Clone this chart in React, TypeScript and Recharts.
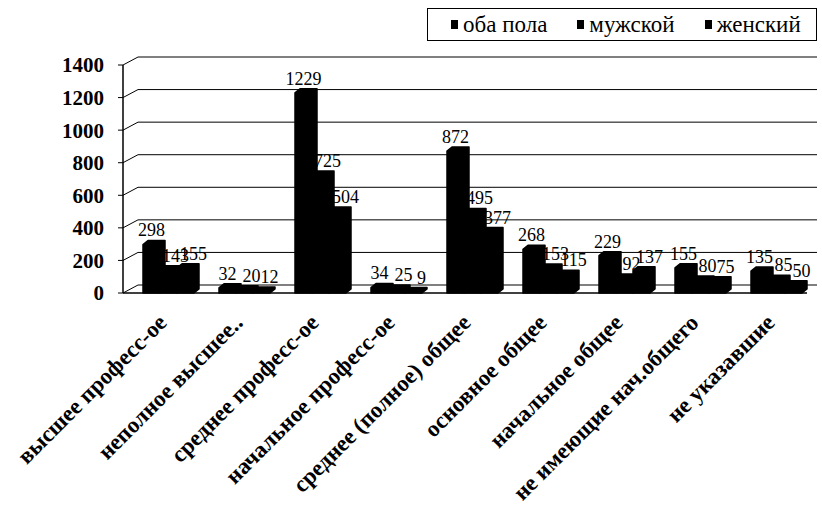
import React from 'react';
import { BarChart, Bar, XAxis, YAxis, CartesianGrid, LabelList } from 'recharts';

const categories = [
  'высшее професс-ое',
  'неполное высшее..',
  'среднее професс-ое',
  'начальное професс-ое',
  'среднее (полное) общее',
  'основное общее',
  'начальное общее',
  'не имеющие нач.общего',
  'не указавшие',
];
const both = [298, 32, 1229, 34, 872, 268, 229, 155, 135];
const male = [143, 20, 725, 25, 495, 153, 92, 80, 85];
const female = [155, 12, 504, 9, 377, 115, 137, 75, 50];
const yTicks = [0, 200, 400, 600, 800, 1000, 1200, 1400];
const seriesNames = ['оба пола', 'мужской', 'женский'];

const data = categories.map((name, i) => ({
  name,
  both: both[i],
  male: male[i],
  female: female[i],
}));

const FONT = '"Liberation Serif", "Times New Roman", serif';
const SHIFT = 8;
const DX = 5;
const DY = 4;

// bar with a little depth, all in black like the scanned original
const Bar3D = (props: any) => {
  const { x, y, width, height } = props;
  if (height <= 0) return null;
  const x0 = x + SHIFT;
  const d = `M${x0},${y + height} L${x0},${y} L${x0 + DX},${y - DY} L${x0 + width + DX},${y - DY} L${x0 + width + DX},${y + height - DY} L${x0 + width},${y + height} Z`;
  return <path d={d} fill="#000" stroke="#000" strokeWidth={1.5} strokeLinejoin="round" />;
};

const valueLabel = (dx: number) => (props: any) => {
  const { x, y, width, value } = props;
  return (
    <text
      x={x + width / 2 + SHIFT + dx}
      y={y - 8}
      textAnchor="middle"
      fontFamily={FONT}
      fontSize={18}
      fill="#000"
    >
      {value}
    </text>
  );
};

// grid line drawn along the floor/back wall of the 3D frame
const GridLine = (props: any) => {
  const { x1, x2, y1 } = props;
  return (
    <polyline
      key={`g-${y1}`}
      points={`${x1},${y1} ${x1 + 15},${y1 - 8} ${x2 + 10},${y1 - 8}`}
      fill="none"
      stroke="#000"
      strokeWidth={1}
    />
  );
};

const XTick = (props: any) => {
  const { x, y, payload } = props;
  return (
    <text
      x={x + 7}
      y={y + 23}
      transform={`rotate(-45, ${x + 7}, ${y + 23})`}
      textAnchor="end"
      fontFamily={FONT}
      fontWeight="bold"
      fontSize={23}
      fill="#000"
    >
      {payload.value}
    </text>
  );
};

const LegendBox = () => (
  <div
    style={{
      position: 'absolute',
      left: 427,
      top: 8,
      width: 390,
      height: 33,
      border: '1.5px solid #000',
      boxSizing: 'border-box',
      display: 'flex',
      alignItems: 'center',
      paddingLeft: 23,
      gap: 30,
      fontFamily: FONT,
      fontSize: 23,
      color: '#000',
      background: '#fff',
    }}
  >
    {seriesNames.map((n) => (
      <span key={n} style={{ display: 'flex', alignItems: 'center' }}>
        <span style={{ width: 7, height: 9, background: '#000', marginRight: 5, display: 'inline-block' }} />
        {n}
      </span>
    ))}
  </div>
);

export default function App() {
  return (
    <div style={{ position: 'absolute', left: 0, top: 0, width: 822, height: 514, background: '#fff' }}>
      <BarChart
        width={822}
        height={514}
        data={data}
        margin={{ top: 65, right: 15, bottom: 21, left: 63 }}
        barGap={0}
        barCategoryGap={12}
      >
        <CartesianGrid vertical={false} horizontal={GridLine} />
        <YAxis
          domain={[0, 1400]}
          ticks={yTicks}
          width={60}
          axisLine={{ stroke: '#000', strokeWidth: 1.5 }}
          tickLine={{ stroke: '#000' }}
          tickSize={5}
          tickMargin={14}
          tick={{ fill: '#000', fontFamily: FONT, fontSize: 21, fontWeight: 'bold' }}
        />
        <XAxis
          dataKey="name"
          interval={0}
          height={200}
          axisLine={{ stroke: '#000', strokeWidth: 1.5 }}
          tickLine={false}
          tick={<XTick />}
        />
        <Bar dataKey="both" name={seriesNames[0]} shape={<Bar3D />} isAnimationActive={false}>
          <LabelList dataKey="both" content={valueLabel(0)} />
        </Bar>
        <Bar dataKey="male" name={seriesNames[1]} shape={<Bar3D />} isAnimationActive={false}>
          <LabelList dataKey="male" content={valueLabel(7)} />
        </Bar>
        <Bar dataKey="female" name={seriesNames[2]} shape={<Bar3D />} isAnimationActive={false}>
          <LabelList dataKey="female" content={valueLabel(8)} />
        </Bar>
      </BarChart>
      <LegendBox />
    </div>
  );
}
